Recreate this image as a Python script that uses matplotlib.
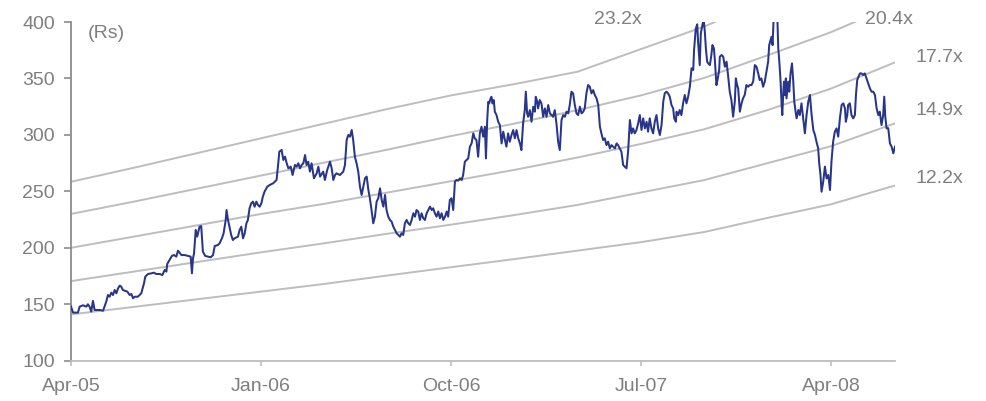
import matplotlib
matplotlib.use("Agg")
import matplotlib.pyplot as plt

plt.rcParams['font.family'] = ['Liberation Sans', 'DejaVu Sans']

# x positions are months elapsed since 1 April 2005
tick_months = [0, 9, 18, 27, 36]
tick_labels = ['Apr-05', 'Jan-06', 'Oct-06', 'Jul-07', 'Apr-08']

# P/E band lines, sampled at quarter starts (Apr-05 .. Jul-08)
band_months = [0, 3, 6, 9, 12, 15, 18, 21, 24, 27, 30, 33, 36, 39]
band_12_2 = [141, 147.7, 154.5, 161.2, 168, 175.5, 182.8, 190, 197.5, 205, 214, 226.5, 238.5, 255]
band_14_9 = [170.5, 179, 187.5, 196, 204, 212.5, 220.5, 229, 238, 249, 260, 275, 290, 310]
band_17_7 = [200, 210, 220, 230, 239, 249, 259, 269, 280, 292, 305, 322, 341, 364]
band_20_4 = [230, 241, 252.5, 264, 275.5, 287, 299, 310, 322, 335, 350.5, 370.5, 391, 415]
band_23_2 = [258.5, 271, 284, 297, 310, 323, 335, 345, 356, 376, 396, 420, 445, 470]
band_names = ['12.2x', '14.9x', '17.7x', '20.4x', '23.2x']

# Share price (Rs)
price_months = [
    0.00, 0.10, 0.33, 0.41, 0.57, 0.73, 0.80, 0.88, 0.96, 1.04, 1.12, 1.36, 1.52, 1.59, 1.67, 1.75,
    1.83, 1.91, 1.99, 2.07, 2.15, 2.23, 2.31, 2.38, 2.46, 2.54, 2.67, 2.78, 2.86, 2.94, 3.02, 3.17,
    3.33, 3.46, 3.52, 3.65, 3.81, 3.93, 4.04, 4.20, 4.33, 4.44, 4.52, 4.56, 4.67, 4.78, 4.88, 4.99,
    5.07, 5.23, 5.39, 5.54, 5.67, 5.73, 5.78, 5.83, 5.91, 5.98, 6.09, 6.17, 6.25, 6.36, 6.49, 6.62,
    6.73, 6.81, 6.96, 7.04, 7.15, 7.23, 7.33, 7.37, 7.44, 7.52, 7.59, 7.67, 7.75, 7.91, 7.99, 8.07,
    8.15, 8.23, 8.31, 8.38, 8.46, 8.54, 8.62, 8.70, 8.78, 8.86, 8.94, 9.02, 9.09, 9.17, 9.30, 9.41,
    9.58, 9.74, 9.82, 9.87, 9.98, 10.06, 10.14, 10.22, 10.30, 10.41, 10.50, 10.61, 10.69, 10.77, 10.85, 10.93,
    11.01, 11.09, 11.16, 11.24, 11.32, 11.40, 11.51, 11.64, 11.72, 11.80, 11.95, 12.03, 12.14, 12.27, 12.35, 12.43,
    12.51, 12.58, 12.74, 12.90, 12.98, 13.06, 13.14, 13.22, 13.30, 13.37, 13.45, 13.53, 13.61, 13.69, 13.77, 13.85,
    13.93, 14.01, 14.09, 14.16, 14.24, 14.32, 14.40, 14.48, 14.56, 14.64, 14.72, 14.80, 14.88, 14.95, 15.03, 15.11,
    15.19, 15.27, 15.35, 15.43, 15.51, 15.59, 15.66, 15.74, 15.82, 15.90, 15.98, 16.06, 16.14, 16.22, 16.30, 16.37,
    16.45, 16.53, 16.61, 16.69, 16.77, 16.85, 16.93, 17.01, 17.09, 17.16, 17.24, 17.32, 17.40, 17.48, 17.56, 17.64,
    17.72, 17.80, 17.87, 17.95, 18.03, 18.11, 18.19, 18.27, 18.35, 18.43, 18.51,
    18.58, 18.61, 18.66, 18.74, 18.82, 18.90, 18.98, 19.06, 19.13, 19.21, 19.29, 19.37, 19.45, 19.53, 19.61, 19.66,
    19.72, 19.77, 19.81, 19.88, 19.92, 19.97, 20.03, 20.08, 20.16, 20.24, 20.32, 20.40, 20.48, 20.56, 20.63, 20.71,
    20.79, 20.87, 20.95, 21.03, 21.11, 21.19, 21.27, 21.34, 21.42, 21.50, 21.55, 21.61, 21.66, 21.74, 21.82, 21.90,
    21.98, 22.02, 22.09, 22.13, 22.21, 22.29, 22.37, 22.45, 22.53, 22.61, 22.69, 22.77, 22.84, 22.92, 23.00, 23.08,
    23.16, 23.24, 23.32, 23.40, 23.48, 23.56, 23.63, 23.71, 23.79, 23.87, 23.95, 24.03, 24.11, 24.19, 24.27, 24.34,
    24.42, 24.50, 24.58, 24.66, 24.74, 24.82, 24.90, 24.98, 25.06, 25.13, 25.21, 25.29, 25.37, 25.45, 25.53, 25.61,
    25.69, 25.77, 25.85, 25.92, 26.00, 26.08, 26.16, 26.24, 26.32, 26.40, 26.48, 26.56, 26.63, 26.71, 26.79, 26.87,
    26.95, 27.03, 27.11, 27.19, 27.27, 27.34, 27.42, 27.50, 27.58, 27.66, 27.74, 27.82, 27.90, 27.98, 28.06, 28.13,
    28.21, 28.29, 28.37, 28.45, 28.53, 28.58, 28.66, 28.69, 28.77, 28.84, 28.92, 29.00, 29.08, 29.16, 29.24, 29.32,
    29.40, 29.48, 29.52, 29.60, 29.67, 29.71, 29.79, 29.84, 29.92, 29.98, 30.03, 30.08, 30.14, 30.19, 30.27, 30.34,
    30.39, 30.46, 30.50, 30.58, 30.63, 30.71, 30.74, 30.82, 30.90, 30.98, 31.06, 31.13, 31.21, 31.29, 31.37, 31.45,
    31.50, 31.56, 31.61, 31.69, 31.77, 31.84, 31.92, 32.00, 32.08, 32.16, 32.24, 32.32, 32.40, 32.48, 32.56, 32.63,
    32.71, 32.79, 32.87, 32.95,
    33.03, 33.08, 33.15, 33.19, 33.24, 33.30, 33.46, 33.51, 33.56, 33.62, 33.67, 33.70, 33.75, 33.78, 33.82, 33.87,
    33.90, 33.98, 34.03, 34.09, 34.16, 34.22, 34.27, 34.33, 34.38, 34.46, 34.53, 34.61, 34.69, 34.77, 34.85, 34.93,
    35.01, 35.09, 35.17, 35.25, 35.32, 35.40, 35.45, 35.51, 35.56, 35.64, 35.72, 35.80, 35.88, 35.96, 36.03, 36.11,
    36.19, 36.27, 36.35, 36.43, 36.51, 36.59, 36.67, 36.71, 36.78, 36.82, 36.90, 36.98, 37.06, 37.14, 37.19, 37.25,
    37.31, 37.38, 37.46, 37.53, 37.61, 37.69, 37.77, 37.85, 37.93, 38.01, 38.09, 38.17, 38.25, 38.32, 38.40, 38.48,
    38.53, 38.58, 38.64, 38.72, 38.80, 38.88, 38.96, 39.04,
]
price = [
    148.0, 142.6, 142.6, 147.9, 149.1, 147.9, 150.0, 147.9, 143.5, 153.0, 144.9, 144.9, 144.3, 147.9, 152.3, 158.2,
    156.7, 160.3, 158.2, 162.6, 159.7, 164.1, 166.5, 165.6, 162.6, 162.1, 161.2, 158.2, 159.1, 155.3, 156.7, 156.7,
    159.7, 168.6, 174.5, 176.8, 177.4, 178.0, 176.8, 176.8, 175.9, 180.4, 178.9, 185.7, 189.2, 192.8, 193.6, 192.2,
    197.5, 193.6, 193.6, 192.8, 192.2, 177.4, 190.7, 195.1, 215.8, 209.9, 218.7, 219.3, 196.6, 192.8, 192.2, 191.6,
    193.6, 201.6, 202.5, 204.0, 208.4, 212.8, 224.6, 233.5, 224.6, 217.3, 211.4, 206.9, 208.4, 209.9, 215.8, 218.7,
    208.4, 212.8, 221.7, 224.6, 235.0, 239.4, 240.9, 236.4, 240.9, 237.9, 236.4, 239.4, 245.3, 249.7, 254.2, 255.6,
    257.2, 260.1, 274.9, 285.2, 286.7, 277.8, 280.8, 274.9, 270.4, 271.9, 264.5, 273.4, 271.9, 274.9, 270.4, 273.4,
    274.9, 282.2, 273.4, 276.3, 267.5, 274.9, 261.6, 266.0, 271.9, 263.1, 267.5, 260.1, 269.0, 276.3, 270.4, 260.1,
    264.5, 266.0, 264.5, 267.5, 273.4, 295.5, 300.0, 298.5, 304.4, 295.5, 280.8, 274.9, 267.5, 254.2, 246.8, 254.2,
    261.6, 263.1, 251.3, 243.9, 233.5, 221.7, 227.6, 240.9, 243.9, 252.7, 242.4, 236.5, 246.8, 233.5, 227.6, 224.7,
    223.2, 218.8, 215.8, 212.9, 211.4, 209.9, 212.9, 211.4, 221.7, 224.7, 221.7, 220.3, 224.7, 230.6, 227.6, 233.5,
    232.1, 224.7, 230.6, 226.2, 224.7, 230.6, 233.5, 236.5, 233.5, 235.0, 230.6, 227.6, 232.1, 226.2, 230.6, 224.7,
    227.6, 232.1, 227.6, 242.4, 243.9, 233.5, 258.6, 260.1, 259.5, 261.6, 260.1,
    264.5, 268.9, 276.3, 277.8, 279.2, 289.6, 292.5, 301.4, 297.0, 295.5, 280.7, 301.4, 307.3, 298.4, 307.3, 279.2,
    313.2, 329.4, 327.9, 332.4, 333.8, 327.9, 330.9, 320.6, 317.6, 311.7, 308.7, 292.5, 302.9, 295.5, 289.6, 301.4,
    294.0, 299.9, 304.3, 297.0, 304.3, 297.0, 292.5, 286.6, 310.2, 322.0, 338.3, 319.1, 316.1, 322.0, 311.7, 325.0,
    320.6, 333.8, 329.4, 323.5, 330.9, 327.9, 316.1, 323.5, 316.1, 326.5, 319.1, 317.6, 316.1, 322.0, 310.2, 294.0,
    286.6, 313.2, 317.6, 316.1, 320.6, 319.1, 326.5, 338.3, 336.8, 326.5, 319.1, 317.6, 325.0, 319.1, 320.6, 323.5,
    336.8, 344.2, 342.7, 336.8, 339.7, 335.3, 332.4, 326.5, 307.3, 301.4, 295.5, 297.0, 291.0, 294.0, 288.1, 291.0,
    289.6, 288.1, 292.5, 291.0, 288.1, 285.1, 273.3, 271.8, 270.4, 286.6, 313.2, 301.4, 305.8, 301.4, 304.3, 310.2,
    317.6, 304.4, 314.7, 305.8, 311.7, 302.9, 314.7, 305.8, 301.4, 311.7, 317.6, 305.8, 299.9, 308.8, 329.4, 336.8,
    338.3, 336.8, 333.9, 326.5, 323.5, 314.7, 311.7, 320.6, 317.6, 322.1, 317.6, 328.0, 335.4, 328.0, 333.9, 342.7,
    359.0, 357.5, 375.2, 394.0, 398.0, 382.6, 361.9, 390.0, 398.0, 401.0, 391.4, 376.7, 364.9, 363.4, 361.9, 370.8,
    379.6, 376.7, 367.8, 344.2, 348.6, 357.5, 369.3, 370.8, 369.3, 360.4, 364.9, 353.1, 338.3, 330.9, 316.2, 329.4,
    350.1, 344.2, 341.3, 320.6, 328.0, 332.4, 335.4, 344.2, 342.7, 344.2, 344.2, 347.2, 361.9, 360.4, 354.5, 348.6,
    350.1, 342.7, 347.2, 356.0,
    364.9, 379.6, 384.1, 387.0, 379.6, 407.7, 407.7, 376.7, 364.9, 347.2, 326.5, 317.6, 338.3, 347.2, 335.4, 350.1,
    332.4, 347.2, 338.3, 354.5, 363.4, 347.2, 329.4, 320.6, 314.7, 322.1, 317.6, 328.0, 314.7, 301.4, 317.6, 329.4,
    335.4, 317.6, 304.4, 299.9, 294.0, 288.1, 274.8, 264.5, 249.7, 258.6, 271.9, 261.5, 264.5, 251.2, 276.3, 294.0,
    302.9, 305.8, 298.5, 314.7, 326.5, 328.0, 323.5, 311.7, 317.6, 326.5, 328.0, 317.6, 314.7, 317.6, 335.4, 348.6,
    351.6, 354.5, 354.5, 353.1, 354.5, 350.1, 345.7, 341.3, 338.3, 338.3, 335.4, 323.5, 317.6, 320.6, 308.8, 317.6,
    333.9, 316.2, 305.8, 306.0, 292.5, 289.6, 283.7, 289.6,
]

grey_text = '#7f7f7f'
band_colour = '#bdbdbd'
price_colour = '#27358a'

fig = plt.figure(figsize=(9.86, 4.01), dpi=100)
ax = fig.add_axes([0.072, 0.1005, 0.8357, 0.8445])

for vals in [band_12_2, band_14_9, band_17_7, band_20_4, band_23_2]:
    ax.plot(band_months, vals, color=band_colour, lw=1.4, zorder=2)

ax.plot(price_months, price, color=price_colour, lw=1.45, zorder=3)

ax.set_xlim(0, 39.04)
ax.set_ylim(100, 400)
ax.set_yticks(range(100, 401, 50))
ax.set_xticks(tick_months)
ax.set_xticklabels(tick_labels)

for side in ('top', 'right'):
    ax.spines[side].set_visible(False)
ax.spines['left'].set_color('#8c8c8c')
ax.spines['left'].set_linewidth(1.3)
ax.spines['bottom'].set_color('#bdbdbd')
ax.spines['bottom'].set_linewidth(1.3)

ax.tick_params(axis='y', direction='out', length=5, width=1.2, color='#8c8c8c',
               pad=6.5, labelsize=14, labelcolor=grey_text)
ax.tick_params(axis='x', direction='out', length=3.6, width=1.2, color='#bdbdbd',
               pad=8.5, labelsize=14, labelcolor=grey_text)

ax.text(0.02, 0.99, '(Rs)', transform=ax.transAxes, ha='left', va='top',
        fontsize=14, color=grey_text)

# band labels placed next to the band ends
label_pos = {
    '23.2x': (24.8, 402.7),
    '20.4x': (37.6, 402.7),
    '17.7x': (40.0, 369.0),
    '14.9x': (40.0, 322.0),
    '12.2x': (40.0, 261.0),
}
for name in band_names:
    x, y = label_pos[name]
    ax.text(x, y, name, ha='left', va='center', fontsize=14, color=grey_text,
            clip_on=False)

fig.savefig('out.png', dpi=100)
